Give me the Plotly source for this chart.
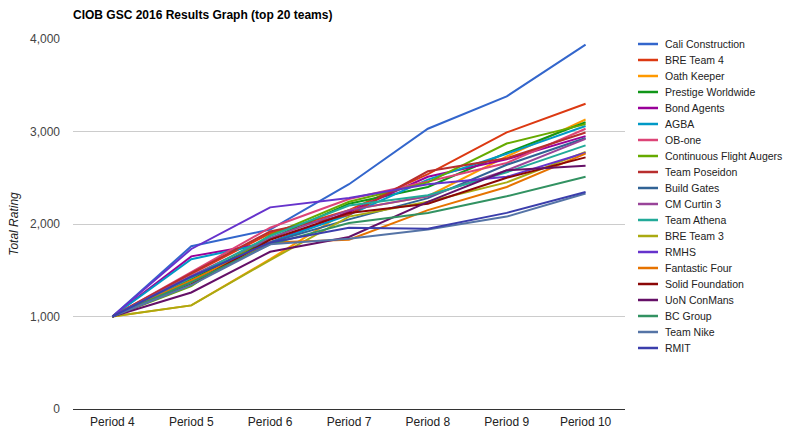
import plotly.graph_objects as go

periods = ["Period 4", "Period 5", "Period 6", "Period 7", "Period 8", "Period 9", "Period 10"]

teams = [
    "Cali Construction", "BRE Team 4", "Oath Keeper", "Prestige Worldwide", "Bond Agents",
    "AGBA", "OB-one", "Continuous Flight Augers", "Team Poseidon", "Build Gates",
    "CM Curtin 3", "Team Athena", "BRE Team 3", "RMHS", "Fantastic Four",
    "Solid Foundation", "UoN ConMans", "BC Group", "Team Nike", "RMIT",
]

cali_construction = [1000, 1760, 1940, 2430, 3030, 3380, 3940]
bre_team_4 = [1000, 1460, 1900, 2150, 2540, 2990, 3300]
oath_keeper = [1000, 1120, 1620, 2150, 2300, 2730, 3130]
prestige_worldwide = [1000, 1400, 1840, 2220, 2400, 2770, 3100]
bond_agents = [1000, 1650, 1800, 2130, 2510, 2700, 2950]
agba = [1000, 1620, 1800, 2100, 2480, 2760, 3060]
ob_one = [1000, 1480, 1960, 2270, 2460, 2660, 3030]
continuous_flight_augers = [1000, 1330, 1880, 2240, 2450, 2870, 3080]
team_poseidon = [1000, 1470, 1920, 2100, 2570, 2710, 2990]
build_gates = [1000, 1380, 1800, 2050, 2280, 2640, 2930]
cm_curtin_3 = [1000, 1440, 1850, 2150, 2300, 2580, 2920]
team_athena = [1000, 1420, 1870, 2200, 2310, 2560, 2850]
bre_team_3 = [1000, 1120, 1610, 2080, 2240, 2450, 2780]
rmhs = [1000, 1730, 2180, 2280, 2430, 2510, 2770]
fantastic_four = [1000, 1390, 1800, 1830, 2150, 2400, 2760]
solid_foundation = [1000, 1350, 1830, 2120, 2220, 2500, 2720]
uon_conmans = [1000, 1260, 1700, 1860, 2240, 2580, 2630]
bc_group = [1000, 1370, 1780, 2010, 2120, 2300, 2510]
team_nike = [1000, 1340, 1780, 1840, 1940, 2080, 2330]
rmit = [1000, 1430, 1800, 1960, 1950, 2120, 2345]

series = [
    cali_construction, bre_team_4, oath_keeper, prestige_worldwide, bond_agents,
    agba, ob_one, continuous_flight_augers, team_poseidon, build_gates,
    cm_curtin_3, team_athena, bre_team_3, rmhs, fantastic_four,
    solid_foundation, uon_conmans, bc_group, team_nike, rmit,
]

colors = [
    "#3366cc", "#dc3912", "#ff9900", "#109618", "#990099",
    "#0099c6", "#dd4477", "#66aa00", "#b82e2e", "#316395",
    "#994499", "#22aa99", "#aaaa11", "#6633cc", "#e67300",
    "#8b0707", "#651067", "#329262", "#5574a6", "#3b3eac",
]

W, H = 787, 441
PL, PR, PT, PB = 73, 625, 39, 409

fig = go.Figure()
for name, vals, col in zip(teams, series, colors):
    fig.add_trace(go.Scatter(
        x=periods, y=vals, mode="lines", name=name,
        line=dict(color=col, width=2), showlegend=False,
    ))

# manual legend (Google-Charts-like compact spacing)
def px_x(px):
    return (px - PL) / (PR - PL)

def px_y(py):
    return (PB - py) / (PB - PT)

shapes = []
annotations = []
for i, (name, col) in enumerate(zip(teams, colors)):
    yy = 44 + 16 * i
    shapes.append(dict(type="line", xref="paper", yref="paper",
                       x0=px_x(638), x1=px_x(658), y0=px_y(yy), y1=px_y(yy),
                       line=dict(color=col, width=2.5)))
    annotations.append(dict(xref="paper", yref="paper", x=px_x(663), y=px_y(yy),
                            xanchor="left", yanchor="middle", showarrow=False,
                            text=name, font=dict(family="Arial", size=10.5, color="#222222")))

fig.update_layout(
    width=W, height=H,
    margin=dict(l=PL, r=W - PR, t=PT, b=H - PB, pad=0),
    paper_bgcolor="white", plot_bgcolor="white",
    font=dict(family="Arial", size=12, color="#222222"),
    title=dict(text="CIOB GSC 2016 Results Graph (top 20 teams)",
               x=PL / W, xanchor="left", xref="container",
               y=1 - 15 / H, yanchor="middle", yref="container",
               font=dict(family="Arial", size=12, color="#000000", weight="bold")),
    xaxis=dict(type="category", categoryorder="array", categoryarray=periods,
               range=[-0.5, 6.5], showgrid=False, zeroline=False, showline=False,
               ticks="", tickfont=dict(size=12, color="#222222"), ticklabelstandoff=4),
    yaxis=dict(range=[0, 4000], tickvals=[0, 1000, 2000, 3000, 4000],
               ticktext=["0", "1,000", "2,000", "3,000", "4,000"],
               showgrid=True, gridcolor="#cccccc", gridwidth=1,
               zeroline=True, zerolinecolor="#333333", zerolinewidth=1,
               showline=False, ticks="", tickfont=dict(size=12, color="#444444"),
               ticklabelstandoff=12,
               title=dict(text="Total Rating", standoff=8,
                          font=dict(size=12, color="#222222", style="italic"))),
    shapes=shapes, annotations=annotations,
    showlegend=False,
)

fig.write_html("out.html", config={"displayModeBar": False},
               post_script="document.body.style.margin='0';document.body.style.overflow='hidden';")
